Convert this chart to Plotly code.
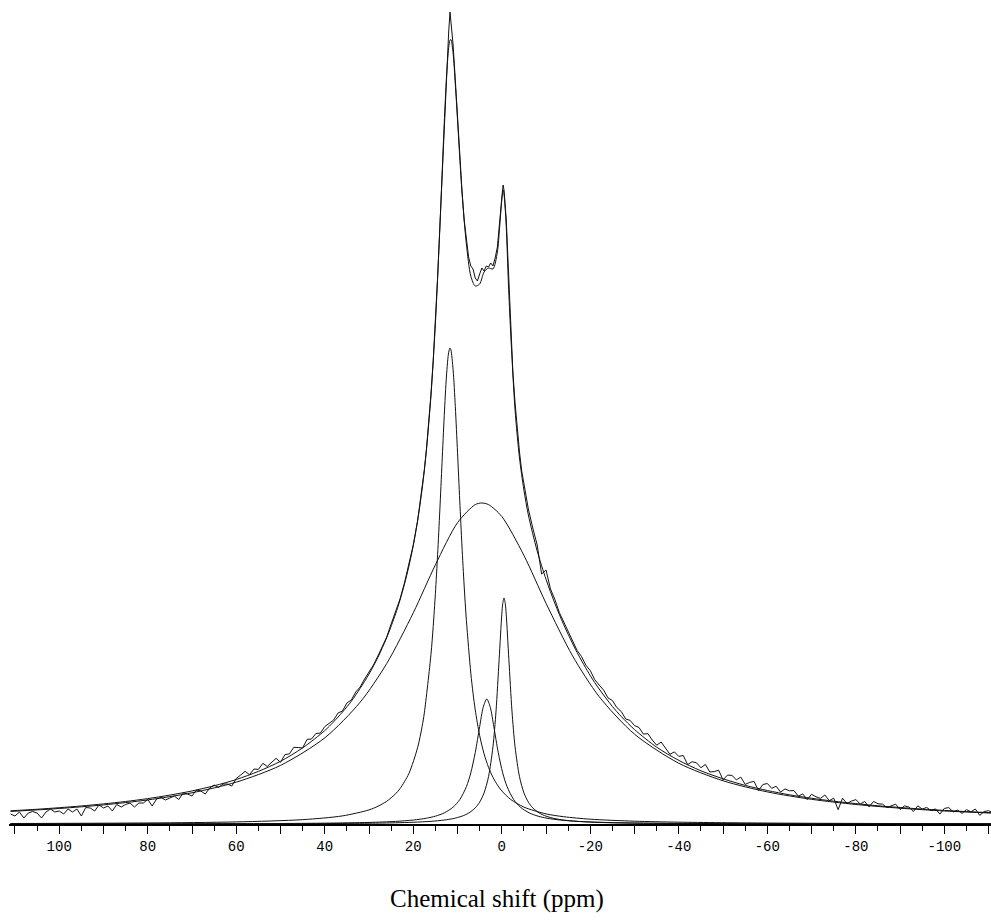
import plotly.graph_objects as go

# ---------------- data (intensity in arbitrary units) ----------------
# experimental spectrum (noisy)
data_ppm = [111, 110, 109, 108, 107, 106, 105, 104, 103, 102, 101, 100, 99, 98, 97, 96, 95, 94, 93, 92, 91, 90,
            89, 88, 87, 86, 85, 84, 83, 82, 81, 80, 79, 78, 77, 76, 75, 74, 73, 72, 71, 70, 69, 68, 67, 66, 65,
            64, 63, 62, 61, 60, 59, 58, 57, 56, 55, 54, 53, 52, 51, 50, 49, 48, 47, 46, 45, 44, 43, 42, 41, 40,
            39, 38, 37, 36, 35, 34, 33, 32, 31, 30, 29, 28, 27, 26, 25, 24, 23, 22, 21, 20, 19, 18,
            17.5, 17, 16.5, 16, 15.5, 15, 14.5, 14, 13.5, 13, 12.5, 12, 11.7, 11.5, 11, 10.5, 10, 9.5, 9, 8.5,
            8, 7.5, 7, 6.5, 6, 5.5, 5, 4.5, 4, 3.5, 3, 2.5, 2, 1.5, 1, 0.5, 0, -0.3, -0.5, -1, -1.5, -2, -2.5,
            -3, -3.5, -4, -4.5, -5, -5.5, -6,
            -7, -8, -9, -10, -11, -12, -13, -14, -15, -16, -17, -18, -19, -20, -21, -22, -23, -24, -25, -26,
            -27, -28, -29, -30, -31, -32, -33, -34, -35, -36, -37, -38, -39, -40, -41, -42, -43, -44, -45, -46,
            -47, -48, -49, -50, -51, -52, -53, -54, -55, -56, -57, -58, -59, -60, -61, -62, -63, -64, -65, -66,
            -67, -68, -69, -70, -71, -72, -73, -74, -75, -76, -77, -78, -79, -80, -81, -82, -83, -84, -85, -86,
            -87, -88, -89, -90, -91, -92, -93, -94, -95, -96, -97, -98, -99, -100, -101, -102, -103, -104, -105,
            -106, -107, -108, -109, -110, -111]
data_int = [10, 8, 12, 6, 11, 12.5, 11, 6, 12, 15, 12, 13, 10, 15, 12, 15, 8, 16.5, 16, 13, 19, 16,
            18, 13, 19.5, 17, 19.5, 21, 17, 21, 21, 24.5, 18, 25, 26.5, 24, 26, 28, 24.5, 31, 30, 28,
            34, 33, 30, 36, 39, 36.5, 40, 40, 38, 45.5,
            49, 52.7, 49.3, 55, 54.6, 60.6, 57.6, 61.7, 65.7, 61.7, 69.4, 70.1, 76.7, 76.4, 76.1, 84.6, 85,
            90.5, 90.9, 97.4,
            101, 104, 111, 113, 121, 124, 132, 137, 145, 152, 159, 168, 178, 187, 200, 212, 225, 241, 259, 279,
            304, 335,
            354, 376, 401, 430, 463, 502, 547, 597, 650, 703, 752, 792, 812, 804, 779, 744, 705, 668, 634, 604,
            584, 567, 558, 555, 546, 543, 550, 556, 553, 558, 557, 561, 558, 566, 577, 598, 626, 639, 634, 605,
            548, 497, 452, 421, 393, 372, 353, 339, 325, 315,
            296, 279, 250, 254, 235, 224.5, 211.5, 202.2, 193.5, 183.4, 173.7, 167.6, 158.8, 153.3, 144.4, 139,
            133.9, 126.1, 123.5, 116.4, 112.5, 105, 103.6, 98.4,
            96.5, 89.9, 90.4, 84, 78.8, 82, 76.3, 69.7, 72.1, 67.6, 68.5, 59.4, 62.3, 61.2, 56.2, 59.6, 52,
            52.4, 53.8, 44.2, 48.9, 48.6, 44.2, 46.9, 39.6, 41.6, 42.6, 33.5, 39.5, 40.5,
            35.6, 37.8, 31.9, 35.1, 33.2, 33.5, 27.8, 30.1, 24.4, 29.75, 27.2, 25.6, 29, 23.4, 25.8, 14.3,
            25.8, 20.4, 22.9, 24.4, 20, 22.5, 17.1, 22.6, 20.2,
            19.9, 16.5, 18.2, 19.8, 14.5, 18.2, 16.9, 12.5, 18.2, 14.9, 16.6, 13.4, 15.1, 9.9, 15.6, 16.4,
            12.1, 13.9, 10.6, 14.4, 12.2, 15, 8.7, 12.5, 13.3, 11.1]

# total fitted curve
fit_ppm = [111, 105, 100, 95, 90, 85, 80, 75, 70, 65, 60, 55, 50, 45, 40, 38, 36, 34, 32, 30, 28, 26, 24, 23, 22,
           21, 20, 19, 18, 17.5, 17, 16, 15, 14, 13.5, 13, 12.5, 12, 11.7, 11.5, 11, 10.5, 10, 9, 8, 7, 6, 5, 4,
           3, 2, 1, 0.5, 0, -0.3, -0.5, -1, -1.5, -2, -3, -4, -5, -6, -8, -10, -12, -14, -17, -20, -22, -25, -27,
           -30, -35, -40, -45, -50, -55, -60, -65, -70, -75, -80, -85, -90, -95, -100, -105, -111]
fit_int = [13.2, 14.75, 16.3, 18.05, 20.1, 22.5, 25.4, 28.9, 33.05, 38.2, 44.5, 52.6, 62.7, 76.1, 93.4, 102.2,
           111.9, 122.7, 135.7, 149.9, 166.6, 186.4, 210.1, 223.9, 239.6, 257.5, 278.5, 303.8, 335.0, 353.8,
           375.3, 428.6, 500.8, 595.1, 648.6, 701.3, 746.4, 776.2, 783.9, 784.4, 770.7, 739.9, 704, 632, 580,
           548, 538, 540, 552, 556, 555, 572, 596, 624, 634, 630, 598, 540, 492, 414, 366, 334, 309, 273, 244.6,
           220.5, 199.2, 171.7, 148.3, 135.0, 117.5, 107.5, 94.4, 76.8, 63.6, 53.2, 45.2, 38.6, 33.5, 29.2,
           25.75, 22.8, 20.4, 18.2, 16.5, 14.9, 13.6, 12.4, 11.2]

# component 1: narrow line near 12 ppm
c1_ppm = [111, 80, 60, 45, 36, 30, 28, 26, 24, 23, 21, 19, 18, 17.5, 16, 15.5, 15, 14.5, 14, 13.5, 13, 12.5,
          12, 11.7, 11.5, 11, 10.5, 10, 9.5, 9, 8.5, 8, 7, 6.5, 6, 5, 4, 3, 2, 1, 0, -2, -5, -10, -14, -20,
          -30, -40, -60, -80, -111]
c1_int = [0.49, 1.04, 2.08, 4.35, 8.11, 14.1, 17.7, 22.7, 30.2, 35.3, 50.4, 76.7, 97.6, 111.1, 169.6, 197.5,
          230.7, 269.6, 313.8, 361.6, 408.6, 448.0, 471.8, 476, 474.1, 454.3, 417.3, 371.2, 323.2, 278.0,
          238.0, 203.7, 150.8, 130.8, 114.1, 88.4, 70.1, 56.7, 46.7, 39.1, 33.1, 24.6, 16.9, 10.1, 7.27,
          4.80, 2.79, 1.82, 0.95, 0.58, 0.32]

# component 2: broad line near 4.5 ppm
c2_ppm = [111, 100, 90, 80, 70, 60, 50, 40, 32, 26, 20, 15, 10, 6, 4.5, 3, 0, -5, -10, -16, -22, -30, -40,
          -50, -60, -70, -80, -90, -100, -111]
c2_int = [12.57, 15.49, 19.09, 24.08, 31.22, 41.88, 58.59, 86.15, 121.8, 160.5, 211.2, 259.2, 301.3, 319.4,
          321, 319.4, 307.5, 268.6, 220.7, 168.1, 127.4, 89.8, 60.75, 43.23, 32.1, 24.67, 19.51, 15.80,
          13.04, 10.84]

# component 3: small line near 3.4 ppm
c3_ppm = [111, 60, 40, 30, 24, 20, 17, 15, 13, 11, 9.5, 8, 7, 6, 5, 4.2, 3.4, 2.6, 1.8, 0.8, -0.2, -1.2,
          -2.7, -4.2, -6.2, -8.2, -10.2, -13.2, -17.2, -23.2, -33.2, -53.2, -111]
c3_int = [0.10, 0.35, 0.83, 1.57, 2.60, 3.95, 5.80, 7.84, 11.12, 16.85, 24.35, 37.3, 51.2, 71.4, 97.3,
          116.7, 125, 116.7, 97.3, 71.4, 51.2, 37.3, 24.35, 16.85, 11.12, 7.84, 5.80, 3.95, 2.60, 1.57,
          0.83, 0.35, 0.09]

# component 4: sharp line near -0.5 ppm
c4_ppm = [111, 60, 40, 30, 24, 20, 16, 13, 11, 9, 7.5, 6, 5, 4, 3, 2, 1.3, 0.6, 0, -0.2, -0.5, -0.8, -1,
          -1.6, -2.3, -3, -4, -5, -6, -7, -8.5, -10, -12, -14, -17, -21, -25, -31, -41, -61, -111]
c4_int = [0.06, 0.20, 0.45, 0.78, 1.21, 1.73, 2.66, 3.95, 5.40, 7.83, 10.89, 16.10, 21.87, 31.17, 47.27,
          77.16, 113, 164.6, 209.8, 219.9, 226, 219.9, 209.8, 164.6, 113, 77.16, 47.27, 31.17, 21.87, 16.10,
          10.89, 7.83, 5.40, 3.95, 2.66, 1.73, 1.21, 0.78, 0.45, 0.20, 0.06]

tick_vals = [110, 100, 90, 80, 70, 60, 50, 40, 30, 20, 10, 0, -10, -20, -30, -40, -50, -60, -70, -80, -90, -100, -110]
tick_text = ["", "100", "", "80", "", "60", "", "40", "", "20", "", "0", "", "-20", "", "-40", "", "-60", "",
             "-80", "", "-100", ""]
minor_vals = [105, 95, 85, 75, 65, 55, 45, 35, 25, 15, 5, -5, -15, -25, -35, -45, -55, -65, -75, -85, -95, -105]
x_title = "Chemical shift (ppm)"

# ---------------- figure ----------------
fig = go.Figure()
line = dict(color="#111111", width=1)
for xs, ys, shape in [(c2_ppm, c2_int, "spline"), (c1_ppm, c1_int, "spline"), (c3_ppm, c3_int, "spline"),
                      (c4_ppm, c4_int, "spline"), (fit_ppm, fit_int, "spline"), (data_ppm, data_int, "linear")]:
    fig.add_trace(go.Scatter(x=xs, y=ys, mode="lines", line=dict(line, shape=shape, smoothing=0.8),
                             showlegend=False, hoverinfo="skip"))

fig.update_layout(
    width=991, height=921, autosize=False,
    margin=dict(l=9, r=0, t=0, b=97, pad=0),
    paper_bgcolor="white", plot_bgcolor="white",
    xaxis=dict(range=[111.35, -110.54], showgrid=False, zeroline=False, showline=True, linecolor="black",
               linewidth=1.5, ticks="outside", ticklen=8, tickwidth=1, tickcolor="black",
               tickmode="array", tickvals=tick_vals, ticktext=tick_text,
               tickfont=dict(family="Liberation Mono", size=14, color="black"),
               minor=dict(tickmode="array", tickvals=minor_vals, ticks="outside", ticklen=5,
                          tickcolor="black", tickwidth=1, showgrid=False)),
    yaxis=dict(range=[0, 824], visible=False, showgrid=False, zeroline=False),
    annotations=[dict(text=x_title, xref="paper", yref="paper", x=0.497, y=-0.091, xanchor="center",
                      yanchor="middle", showarrow=False,
                      font=dict(family="Liberation Serif", size=25, color="black"))],
)

fig.write_html("out.html", config={"displayModeBar": False},
               post_script="document.body.style.margin='0';")
